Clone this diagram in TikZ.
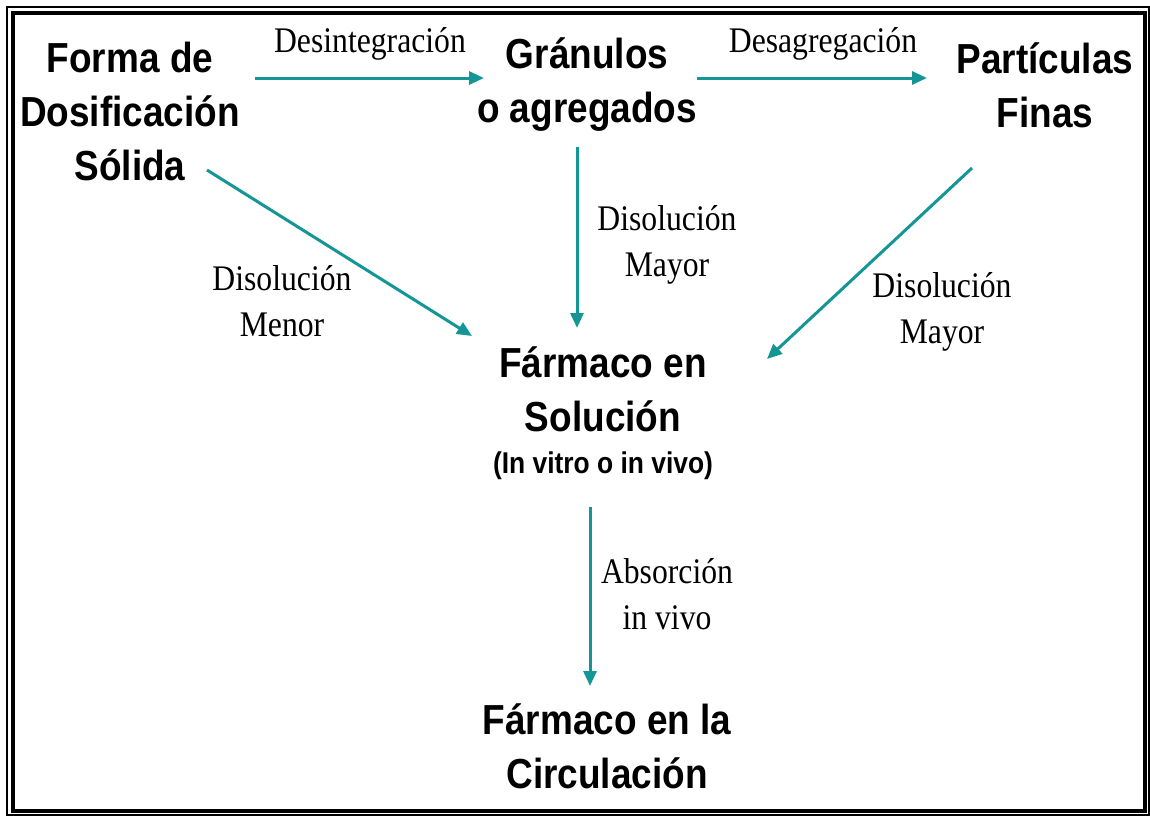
\documentclass[tikz,border=0pt]{standalone}
\usepackage{fontspec}
\setsansfont{Liberation Sans}[FakeStretch=0.88]
\setmainfont{Liberation Serif}[FakeStretch=0.88]
\usetikzlibrary{arrows.meta}
\definecolor{teal1}{RGB}{20,150,150}
\tikzset{
  big/.style={font=\sffamily\bfseries\fontsize{42}{54}\selectfont, align=center, inner sep=0pt},
  small/.style={font=\sffamily\bfseries\fontsize{30}{36}\selectfont, inner sep=0pt},
  lab/.style={font=\rmfamily\fontsize{36}{46}\selectfont, align=center, inner sep=0pt},
  arr/.style={draw=teal1, line width=3pt, -{Triangle[length=15pt,width=13pt]}},
}
\begin{document}
\begin{tikzpicture}[x=1pt,y=-1pt]
\useasboundingbox (0,0) rectangle (1150,817);
\fill[white] (0,0) rectangle (1150,817);
\draw[line width=1.2pt] (7,7) rectangle (1149,815);
\draw[line width=4.5pt] (13,13) rectangle (1145,811);

\node[big] (forma) at (130,111) {Forma de\\Dosificación\\Sólida};
\node[big] (gran) at (587,85) {Gránulos\\o agregados};
\node[big] (part) at (1045,85) {Partículas\\Finas};
\node[big] (farm) at (603,389) {Fármaco en\\Solución};
\node[small] (vitro) at (603,466) {(In vitro o in vivo)};
\node[big] (circ) at (607,746) {Fármaco en la\\Circulación};

\node[lab] (l1) at (370,44) {Desintegración};
\node[lab] (l2) at (823,44) {Desagregación};
\node[lab] (l3) at (667,245) {Disolución\\Mayor};
\node[lab] (l4) at (282,301) {Disolución\\Menor};
\node[lab] (l5) at (942,312) {Disolución\\Mayor};
\node[lab] (l6) at (667,594) {Absorción\\in vivo};

\coordinate (formaE) at (255,78);
\coordinate (granW) at (484,78);
\coordinate (granE) at (697,78);
\coordinate (partW) at (927,78);
\coordinate (formaS) at (207,170);
\coordinate (farmNW) at (472,336);
\coordinate (granS) at (577,147);
\coordinate (farmN) at (577,328);
\coordinate (partS) at (972,168);
\coordinate (farmNE) at (767,359);
\coordinate (farmS) at (590,507);
\coordinate (circN) at (590,686);

\draw[arr] (formaE) -- (granW);
\draw[arr] (granE) -- (partW);
\draw[arr] (formaS) -- (farmNW);
\draw[arr] (granS) -- (farmN);
\draw[arr] (partS) -- (farmNE);
\draw[arr] (farmS) -- (circN);
\end{tikzpicture}
\end{document}
